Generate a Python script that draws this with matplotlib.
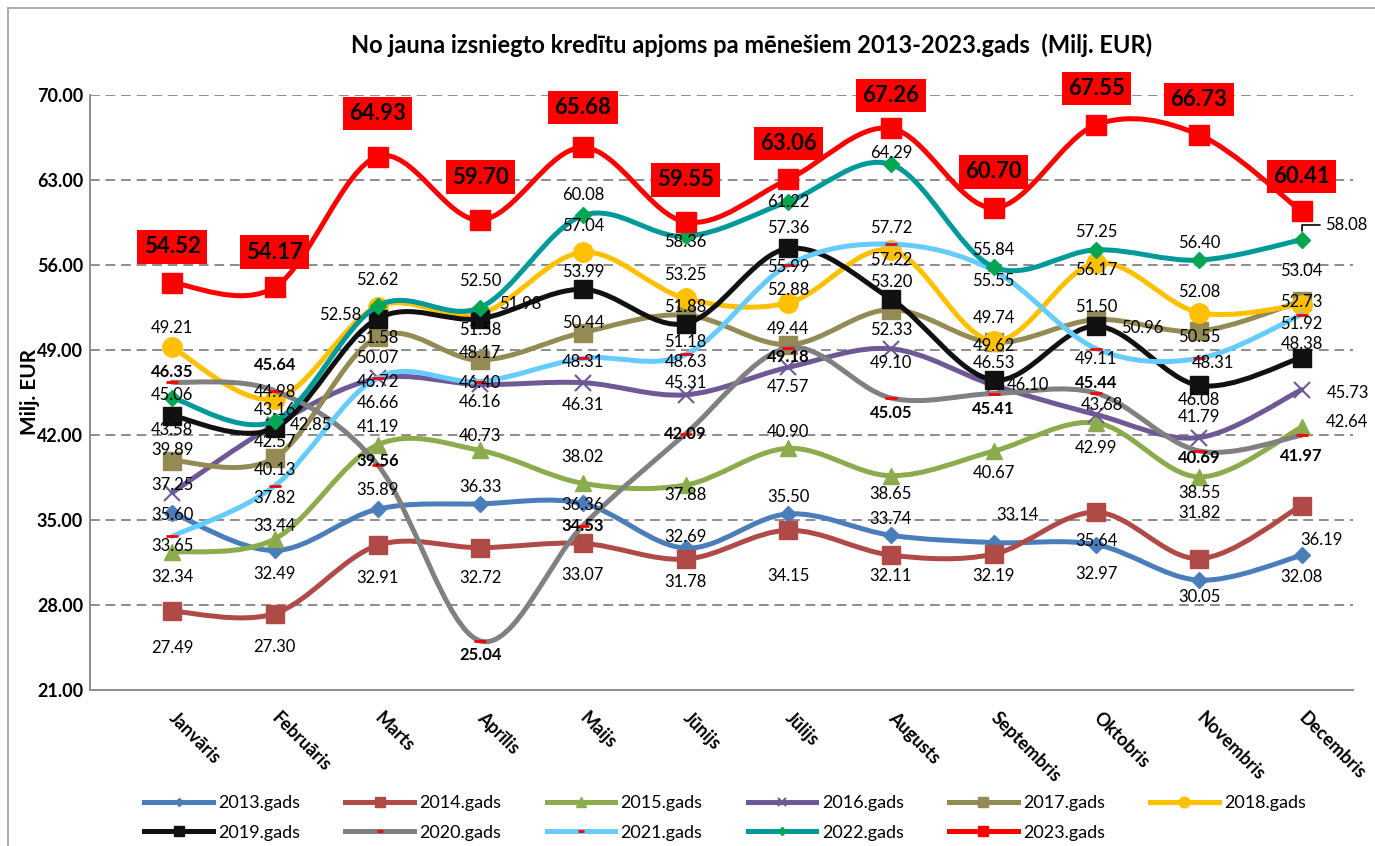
import matplotlib
matplotlib.use("Agg")
import matplotlib.pyplot as plt
from matplotlib.path import Path
from matplotlib.patches import PathPatch
from matplotlib.lines import Line2D

plt.rcParams['font.family'] = ['Lato', 'DejaVu Sans']

# ----------------------
# Data
# ----------------------
months = ["Janvāris", "Februāris", "Marts", "Aprīlis", "Maijs", "Jūnijs",
          "Jūlijs", "Augusts", "Septembris", "Oktobris", "Novembris", "Decembris"]

y2013 = [35.60, 32.49, 35.89, 36.33, 36.36, 32.69, 35.50, 33.74, 33.14, 32.97, 30.05, 32.08]
y2014 = [27.49, 27.30, 32.91, 32.72, 33.07, 31.78, 34.15, 32.11, 32.19, 35.64, 31.82, 36.19]
y2015 = [32.34, 33.44, 41.19, 40.73, 38.02, 37.88, 40.90, 38.65, 40.67, 42.99, 38.55, 42.64]
y2016 = [37.25, 42.85, 46.66, 46.16, 46.31, 45.31, 47.57, 49.10, 46.10, 43.68, 41.79, 45.73]
y2017 = [39.89, 40.13, 50.07, 48.17, 50.44, 51.88, 49.44, 52.33, 49.62, 51.50, 50.55, 53.04]
y2018 = [49.21, 44.98, 52.58, 51.98, 57.04, 53.25, 52.88, 57.22, 49.74, 56.17, 52.08, 52.73]
y2019 = [43.58, 42.57, 51.58, 51.58, 53.99, 51.18, 57.36, 53.20, 46.53, 50.96, 46.08, 48.38]
y2020 = [46.35, 45.64, 39.56, 25.04, 34.53, 42.09, 49.18, 45.05, 45.41, 45.44, 40.69, 41.97]
y2021 = [33.65, 37.82, 46.72, 46.40, 48.31, 48.63, 55.99, 57.72, 55.55, 49.11, 48.31, 51.92]
y2022 = [45.06, 43.16, 52.62, 52.50, 60.08, 58.36, 61.22, 64.29, 55.84, 57.25, 56.40, 58.08]
y2023 = [54.52, 54.17, 64.93, 59.70, 65.68, 59.55, 63.06, 67.26, 60.70, 67.55, 66.73, 60.41]

years = ["2013", "2014", "2015", "2016", "2017", "2018",
         "2019", "2020", "2021", "2022", "2023"]
values = [y2013, y2014, y2015, y2016, y2017, y2018,
          y2019, y2020, y2021, y2022, y2023]

# ----------------------
# Styles: line colour, marker, marker size, marker colour, edge width
# ----------------------
styles = {
    "2013": dict(color="#4A7EBB", marker="D", ms=8, mc="#4A7EBB", mew=1),
    "2014": dict(color="#B04A46", marker="s", ms=13, mc="#B04A46", mew=1),
    "2015": dict(color="#8BAB4D", marker="^", ms=12, mc="#8BAB4D", mew=1),
    "2016": dict(color="#6E5896", marker="x", ms=11, mc="#6E5896", mew=1.5),
    "2017": dict(color="#948A54", marker="s", ms=13, mc="#948A54", mew=1),
    "2018": dict(color="#FFC000", marker="o", ms=14, mc="#FFC000", mew=1),
    "2019": dict(color="#111111", marker="s", ms=13, mc="#111111", mew=1),
    "2020": dict(color="#808080", marker="_", ms=8, mc="#FF0000", mew=2),
    "2021": dict(color="#66CCFF", marker="_", ms=8, mc="#FF0000", mew=2),
    "2022": dict(color="#009999", marker="D", ms=8, mc="#00A651", mew=1),
    "2023": dict(color="#FF0000", marker="s", ms=14, mc="#FF0000", mew=1),
}

# label offsets in pixels (dx right, dy down) from each point
offsets = {
    "2013": [(0, 2), (0, 24), (0, -19), (0, -17), (0, 2), (0, -11), (0, -17), (0, -16), (24, -28), (0, 29), (0, 17), (0, 22)],
    "2014": [(0, 37), (0, 34), (0, 33), (0, 30), (0, 32), (0, 23), (0, 46), (0, 21), (0, 22), (0, 29), (0, -46), (20, 34)],
    "2015": [(0, 25), (0, -13), (0, -18), (0, -14), (0, -26), (0, 10), (0, -16), (0, 18), (0, 22), (0, 25), (0, 16), (45, -5)],
    "2016": [(0, -8), (36, 0), (0, 25), (0, 18), (0, 22), (0, -12), (0, 20), (0, 14), (34, 0), (6, -10), (0, -21), (46, 3)],
    "2017": [(0, -11), (0, 12), (0, 21), (0, -7), (0, -10), (0, -8), (0, -16), (0, 20), (0, 4), (0, -13), (0, 6), (0, -30)],
    "2018": [(0, -19), (0, -7), (-37, 8), (40, -10), (0, -26), (0, -23), (0, -13), (0, 10), (0, -23), (0, 7), (0, -21), (0, -3)],
    "2019": [(0, 14), (0, 14), (0, 19), (0, 11), (0, -17), (0, 18), (0, -20), (0, -17), (0, -17), (46, 2), (0, 15), (0, -14)],
    "2020": [(0, -10), (0, -26), (0, -4), (0, 14), (0, 0), (0, 0), (0, 9), (0, 15), (0, 15), (0, -10), (0, 7), (0, 21)],
    "2021": [(0, 10), (0, 12), (0, 4), (0, 1), (0, 4), (0, 8), (0, 2), (0, -16), (0, 11), (0, 10), (14, 5), (0, 9)],
    "2022": [(0, -3), (0, -11), (0, -26), (0, -27), (0, -20), (0, 6), (0, 0), (0, -11), (0, -17), (0, -18), (0, -17), (45, -15)],
    "2023": [(0, -36), (0, -35), (0, -43), (0, -43), (0, -40), (0, -42), (0, -36), (0, -33), (0, -36), (0, -36), (0, -35), (0, -35)],
}


def smooth_path(xs, ys):
    # Excel-like smoothed line: cubic Bezier segments through every point
    pts = list(zip(xs, ys))
    n = len(pts)
    verts = [pts[0]]
    codes = [Path.MOVETO]
    for i in range(n - 1):
        p0 = pts[i - 1] if i > 0 else pts[i]
        p1 = pts[i]
        p2 = pts[i + 1]
        p3 = pts[i + 2] if i + 2 < n else pts[i + 1]
        c1 = (p1[0] + (p2[0] - p0[0]) / 6, p1[1] + (p2[1] - p0[1]) / 6)
        c2 = (p2[0] - (p3[0] - p1[0]) / 6, p2[1] - (p3[1] - p1[1]) / 6)
        verts += [c1, c2, p2]
        codes += [Path.CURVE4] * 3
    return Path(verts, codes)


W, H = 1375, 846
fig = plt.figure(figsize=(W / 100, H / 100), dpi=100)
ax = fig.add_axes([90 / W, 1 - 690 / H, (1353 - 90) / W, (690 - 95) / H])

x = list(range(len(months)))
for k, (yr, vals) in enumerate(zip(years, values)):
    st = styles[yr]
    ax.add_patch(PathPatch(smooth_path(x, vals), fill=False, edgecolor=st["color"],
                           lw=3.6, capstyle="round", joinstyle="round", zorder=2 + k * 0.1))
    ax.plot(x, vals, linestyle="none", marker=st["marker"], ms=st["ms"],
            color=st["mc"], mec=st["mc"], mew=st["mew"], zorder=2.05 + k * 0.1)

# data labels
for yr, vals in zip(years, values):
    for i, v in enumerate(vals):
        dx, dy = offsets[yr][i]
        kw = dict(fontsize=12)
        if yr == "2020":
            kw["fontweight"] = "bold"
        if yr == "2023":
            kw = dict(fontsize=16, fontweight="bold",
                      bbox=dict(boxstyle="square,pad=0.28", fc="#FF0000", ec="none"))
        if yr == "2022" and i == len(vals) - 1:
            kw["arrowprops"] = dict(arrowstyle="-", color="black", lw=1.2,
                                    connectionstyle="angle,angleA=0,angleB=90,rad=0",
                                    shrinkA=2, shrinkB=6)
        ax.annotate(f"{v:.2f}", (i, v), xytext=(dx, -dy), textcoords="offset pixels",
                    ha="center", va="center", zorder=10, **kw)

ax.set_xlim(-0.80, 11.50)
ax.set_ylim(21, 70)
yt = [21, 28, 35, 42, 49, 56, 63, 70]
ax.set_yticks(yt)
ax.set_yticklabels([f"{t:.2f}" for t in yt], fontweight="bold", fontsize=13)
ax.set_xticks(x)
ax.set_xticklabels(months, rotation=-45, ha="left", va="center",
                   rotation_mode="anchor", fontweight="bold", fontsize=13)
ax.tick_params(axis="both", length=0)
ax.tick_params(axis="x", pad=18)
ax.tick_params(axis="y", pad=5)
for t in yt[1:]:
    ax.axhline(t, color="#8C8C8C", lw=1.4, ls=(0, (5, 3)), zorder=1)
for s in ["top", "right"]:
    ax.spines[s].set_visible(False)
for s in ["left", "bottom"]:
    ax.spines[s].set_color("#8C8C8C")
    ax.spines[s].set_linewidth(1.4)

fig.text(752 / W, 1 - 45 / H,
         "No jauna izsniegto kredītu apjoms pa mēnešiem 2013-2023.gads  (Milj. EUR)",
         ha="center", va="center", fontsize=17, fontweight="bold")
fig.text(30 / W, 1 - 392 / H, "Milj. EUR", rotation=90, ha="center", va="center",
         fontsize=15, fontweight="bold")

# outer chart frame
fig.add_artist(Line2D([8 / W, 8 / W], [0, 1 - 8 / H], color="#A0A0A0", lw=1.2))
fig.add_artist(Line2D([8 / W, 1], [1 - 8 / H, 1 - 8 / H], color="#A0A0A0", lw=1.2))

# legend: row 1 2013-2018, row 2 2019-2023 (column-major order)
handles = {}
for yr in years:
    st = styles[yr]
    handles[yr] = Line2D([], [], color=st["color"], lw=3.6, marker=st["marker"],
                         ms=st["ms"] * 0.55, mfc=st["mc"], mec=st["mc"], mew=st["mew"])
order = ["2013", "2019", "2014", "2020", "2015", "2021", "2016", "2022", "2017", "2023", "2018"]
fig.legend([handles[yr] for yr in order], [f"{yr}.gads" for yr in order],
           loc="center left", bbox_to_anchor=(128 / W, 1 - 818 / H), ncol=6,
           frameon=False, handlelength=3.8, handletextpad=0.3, columnspacing=2.5,
           labelspacing=0.75, fontsize=13)

fig.savefig("out.png", dpi=100)
